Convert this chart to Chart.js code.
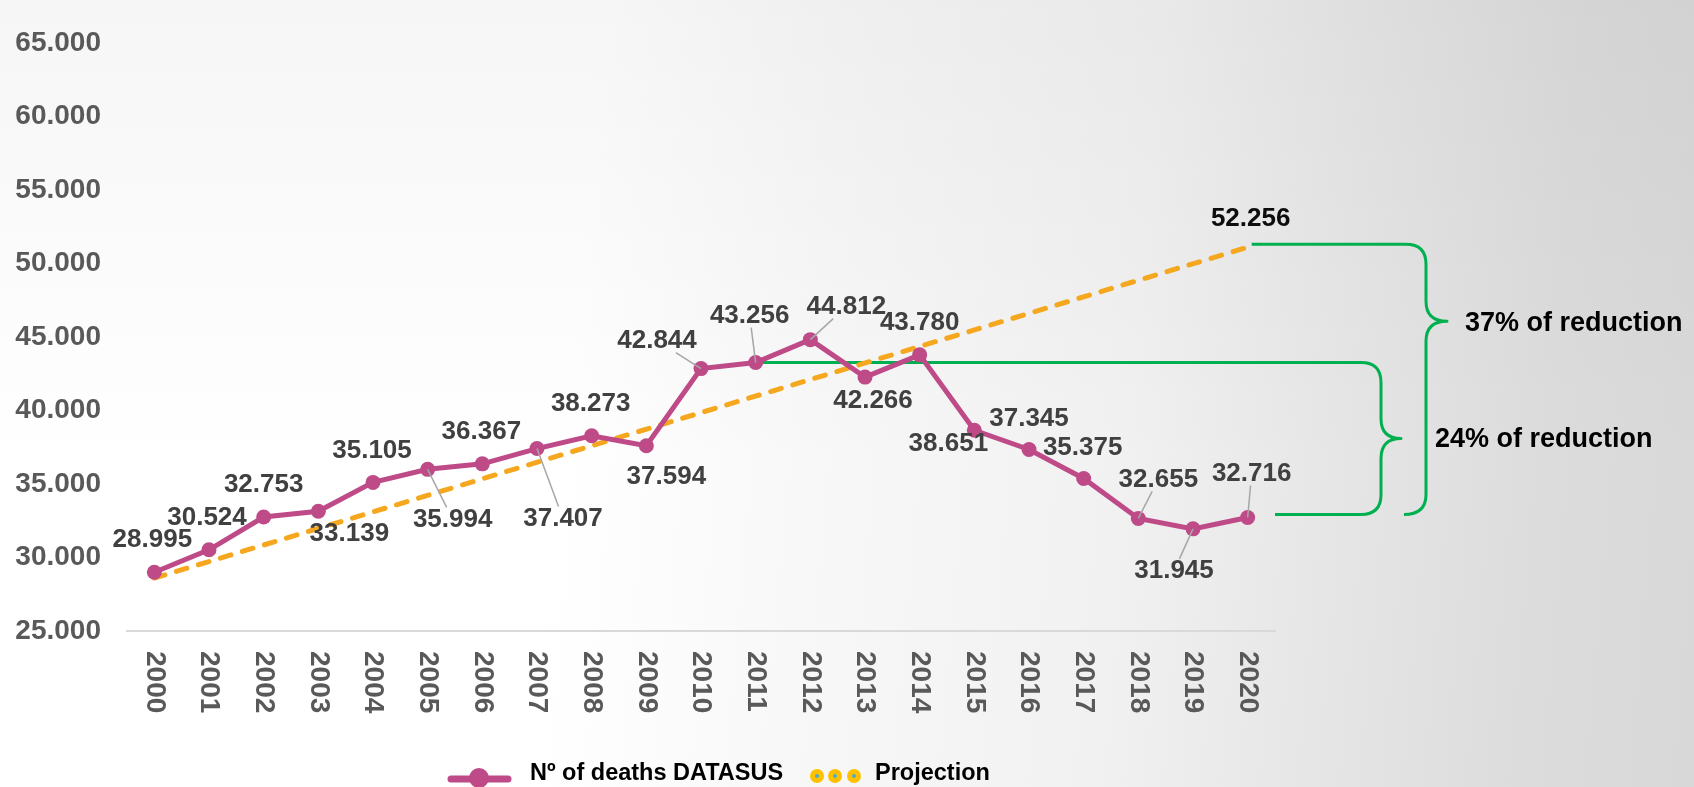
<!DOCTYPE html>
<html>
<head>
<meta charset="utf-8">
<script src="https://cdn.jsdelivr.net/npm/chart.js@4.4.1/dist/chart.umd.min.js"></script>
<style>
    html, body { margin: 0; padding: 0; }
    body {
        width: 1694px; height: 787px; overflow: hidden;
        background:
            linear-gradient(to bottom, rgba(0, 0, 0, 0.035) 0%, rgba(0, 0, 0, 0) 60%),
            linear-gradient(95deg, #ffffff 0%, #ffffff 34%, #f8f8f8 48%, #f1f1f1 66%, #e6e6e6 78%, #dcdcdc 90%, #d8d8d8 100%);
    }
    #wrap { position: relative; width: 1694px; height: 787px; }
</style>
</head>
<body>
<div id="wrap"><canvas id="deathsChart"></canvas></div>
<script>
// ---- data ----
const years = ['2000', '2001', '2002', '2003', '2004', '2005', '2006', '2007', '2008', '2009', '2010',
               '2011', '2012', '2013', '2014', '2015', '2016', '2017', '2018', '2019', '2020'];
const deaths = [28995, 30524, 32753, 33139, 35105, 35994, 36367, 37407, 38273, 37594, 42844,
                43256, 44812, 42266, 43780, 38651, 37345, 35375, 32655, 31945, 32716];
// trend line: only the two ends are known, the line is drawn straight between them
const projection = [28600, null, null, null, null, null, null, null, null, null, null,
                    null, null, null, null, null, null, null, null, null, 51100];
const projectionLabel = 52256;
const yTicks = [25000, 30000, 35000, 40000, 45000, 50000, 55000, 60000, 65000];
const seriesNames = ['Nº of deaths DATASUS', 'Projection'];
const reductionTexts = ['37% of reduction', '24% of reduction'];

// ---- label placement (dx, dy from the point, leader line yes/no) ----
const labelPlacement = [
    [-2, -32, 0], [-2, -32, 0], [0, -32, 0], [31, 23, 0], [-1, -32, 0], [25, 50, 1], [-1, -32, 0],
    [26, 70, 1], [-1, -32, 0], [20, 31, 0], [-44, -28, 1], [-6, -47, 1], [36, -33, 1], [8, 24, 0],
    [0, -32, 0], [-26, 14, 0], [0, -31, 0], [-1, -31, 0], [20, -39, 1], [-19, 42, 1], [4, -44, 1]
];

const FONT = '"Liberation Sans", Arial, sans-serif';
const PINK = '#be4b88';
const ORANGE = '#f5a81f';
const GREEN = '#00b050';

function fmt(v) {
    return String(v).replace(/\B(?=(\d{3})+(?!\d))/g, '.');
}

// data labels with leader lines
const labelPlugin = {
    id: 'labels',
    afterDatasetsDraw(chart) {
        const ctx = chart.ctx;
        const meta = chart.getDatasetMeta(0);
        ctx.save();
        ctx.font = 'bold 26px ' + FONT;
        ctx.textAlign = 'center';
        ctx.textBaseline = 'middle';
        meta.data.forEach((pt, i) => {
            const [dx, dy, leader] = labelPlacement[i];
            const txt = fmt(deaths[i]);
            const lx = pt.x + dx, ly = pt.y + dy;
            if (leader) {
                const hw = ctx.measureText(txt).width / 2 + 2, hh = 12;
                const vx = pt.x - lx, vy = pt.y - ly;
                const t = Math.min(hw / Math.abs(vx || 1e-6), hh / Math.abs(vy || 1e-6));
                ctx.strokeStyle = '#a6a6a6';
                ctx.lineWidth = 1.5;
                ctx.beginPath();
                ctx.moveTo(lx + vx * t, ly + vy * t);
                ctx.lineTo(pt.x, pt.y);
                ctx.stroke();
            }
            ctx.fillStyle = '#404040';
            ctx.fillText(txt, lx, ly);
        });
        // projection end value
        const pm = chart.getDatasetMeta(1).data[20];
        ctx.fillStyle = '#0d0d0d';
        ctx.fillText(fmt(projectionLabel), pm.x + 3, pm.y - 28);
        ctx.restore();
    }
};

// green braces showing the reductions
const bracePlugin = {
    id: 'braces',
    beforeDatasetsDraw(chart) {
        const { ctx, chartArea, scales: { x, y } } = chart;
        const r = chartArea.right;
        const yTop = y.getPixelForValue(projection[20]) - 3;
        const yMid = y.getPixelForValue(deaths[11]);
        const yBot = y.getPixelForValue(deaths[20]) - 3;
        const x11 = x.getPixelForValue(11);
        const x20 = x.getPixelForValue(20);
        ctx.save();
        ctx.strokeStyle = GREEN;
        ctx.lineWidth = 3;
        ctx.lineJoin = 'round';

        // large brace: projection vs 2020
        const bx = r + 151, btip = yTop + 77;
        ctx.beginPath();
        ctx.moveTo(x20 + 4, yTop);
        ctx.lineTo(bx - 20, yTop);
        ctx.quadraticCurveTo(bx, yTop, bx, yTop + 20);
        ctx.lineTo(bx, btip - 20);
        ctx.quadraticCurveTo(bx, btip, bx + 21, btip);
        ctx.quadraticCurveTo(bx, btip, bx, btip + 20);
        ctx.lineTo(bx, yBot - 20);
        ctx.quadraticCurveTo(bx, yBot, bx - 22, yBot);
        ctx.stroke();

        // small brace: 2011 vs 2020
        const sx = r + 106, stip = (yMid + yBot) / 2;
        ctx.beginPath();
        ctx.moveTo(x11, yMid);
        ctx.lineTo(sx - 20, yMid);
        ctx.quadraticCurveTo(sx, yMid, sx, yMid + 20);
        ctx.lineTo(sx, stip - 20);
        ctx.quadraticCurveTo(sx, stip, sx + 20, stip);
        ctx.quadraticCurveTo(sx, stip, sx, stip + 20);
        ctx.lineTo(sx, yBot - 20);
        ctx.quadraticCurveTo(sx, yBot, sx - 20, yBot);
        ctx.lineTo(r, yBot);
        ctx.stroke();

        ctx.fillStyle = '#000';
        ctx.font = 'bold 27px ' + FONT;
        ctx.textAlign = 'left';
        ctx.textBaseline = 'middle';
        ctx.fillText(reductionTexts[0], bx + 39, btip + 2);
        ctx.fillText(reductionTexts[1], sx + 54, stip + 1);
        ctx.restore();
    }
};

// vertical year labels (top to bottom) and the legend
const axisLegendPlugin = {
    id: 'axisLegend',
    afterDraw(chart) {
        const { ctx, chartArea, scales: { x } } = chart;
        ctx.save();
        ctx.font = 'bold 28px ' + FONT;
        ctx.fillStyle = '#595959';
        ctx.textAlign = 'left';
        ctx.textBaseline = 'middle';
        years.forEach((yr, i) => {
            ctx.save();
            ctx.translate(x.getPixelForValue(i), chartArea.bottom + 20);
            ctx.rotate(Math.PI / 2);
            ctx.fillText(yr, 0, 0);
            ctx.restore();
        });

        // legend
        const ly = 777;
        ctx.strokeStyle = PINK;
        ctx.lineWidth = 7;
        ctx.lineCap = 'round';
        ctx.beginPath();
        ctx.moveTo(451, ly + 2);
        ctx.lineTo(508, ly + 2);
        ctx.stroke();
        ctx.fillStyle = PINK;
        ctx.beginPath();
        ctx.arc(479, ly + 1, 10, 0, Math.PI * 2);
        ctx.fill();

        ctx.fillStyle = '#000';
        ctx.font = 'bold 23.5px ' + FONT;
        ctx.fillText(seriesNames[0], 530, ly - 3);

        [817, 835, 854].forEach(cx => {
            ctx.fillStyle = '#ffc000';
            ctx.beginPath();
            ctx.arc(cx, ly - 1, 7, 0, Math.PI * 2);
            ctx.fill();
            ctx.fillStyle = '#4bacc6';
            ctx.beginPath();
            ctx.arc(cx, ly - 1, 2, 0, Math.PI * 2);
            ctx.fill();
        });
        ctx.fillStyle = '#000';
        ctx.fillText(seriesNames[1], 875, ly - 3);
        ctx.restore();
    }
};

const ctx = document.getElementById('deathsChart').getContext('2d');
const deathsChart = new Chart(ctx, {
    type: 'line',
    data: {
        labels: years,
        datasets: [{
            label: seriesNames[0],
            data: deaths,
            borderColor: PINK,
            backgroundColor: PINK,
            borderWidth: 5,
            pointRadius: 7.5,
            pointHoverRadius: 7.5,
            pointBackgroundColor: PINK,
            pointBorderWidth: 0,
            tension: 0,
            clip: false
        }, {
            label: seriesNames[1],
            data: projection,
            borderColor: ORANGE,
            borderWidth: 5,
            borderDash: [11, 12],
            borderCapStyle: 'round',
            pointRadius: 0,
            spanGaps: true,
            tension: 0,
            clip: false
        }]
    },
    options: {
        responsive: true,
        maintainAspectRatio: false,
        animation: false,
        layout: { padding: { top: 22, right: 419, left: 0, bottom: 0 } },
        plugins: {
            legend: { display: false },
            tooltip: { enabled: false }
        },
        scales: {
            x: {
                offset: true,
                grid: { display: false },
                border: { display: true, color: '#d9d9d9', width: 2 },
                ticks: { display: false },
                afterFit: (s) => { s.height = 156; }
            },
            y: {
                min: yTicks[0],
                max: yTicks[yTicks.length - 1],
                grid: { display: false, drawTicks: false },
                border: { display: false },
                afterBuildTicks: (s) => { s.ticks = yTicks.map(v => ({ value: v })); },
                ticks: {
                    padding: 26,
                    color: '#595959',
                    font: { family: FONT, size: 28, weight: 'bold' },
                    callback: (v) => fmt(v)
                },
                afterFit: (s) => { s.width = 127; }
            }
        }
    },
    plugins: [bracePlugin, labelPlugin, axisLegendPlugin]
});
</script>
</body>
</html>
